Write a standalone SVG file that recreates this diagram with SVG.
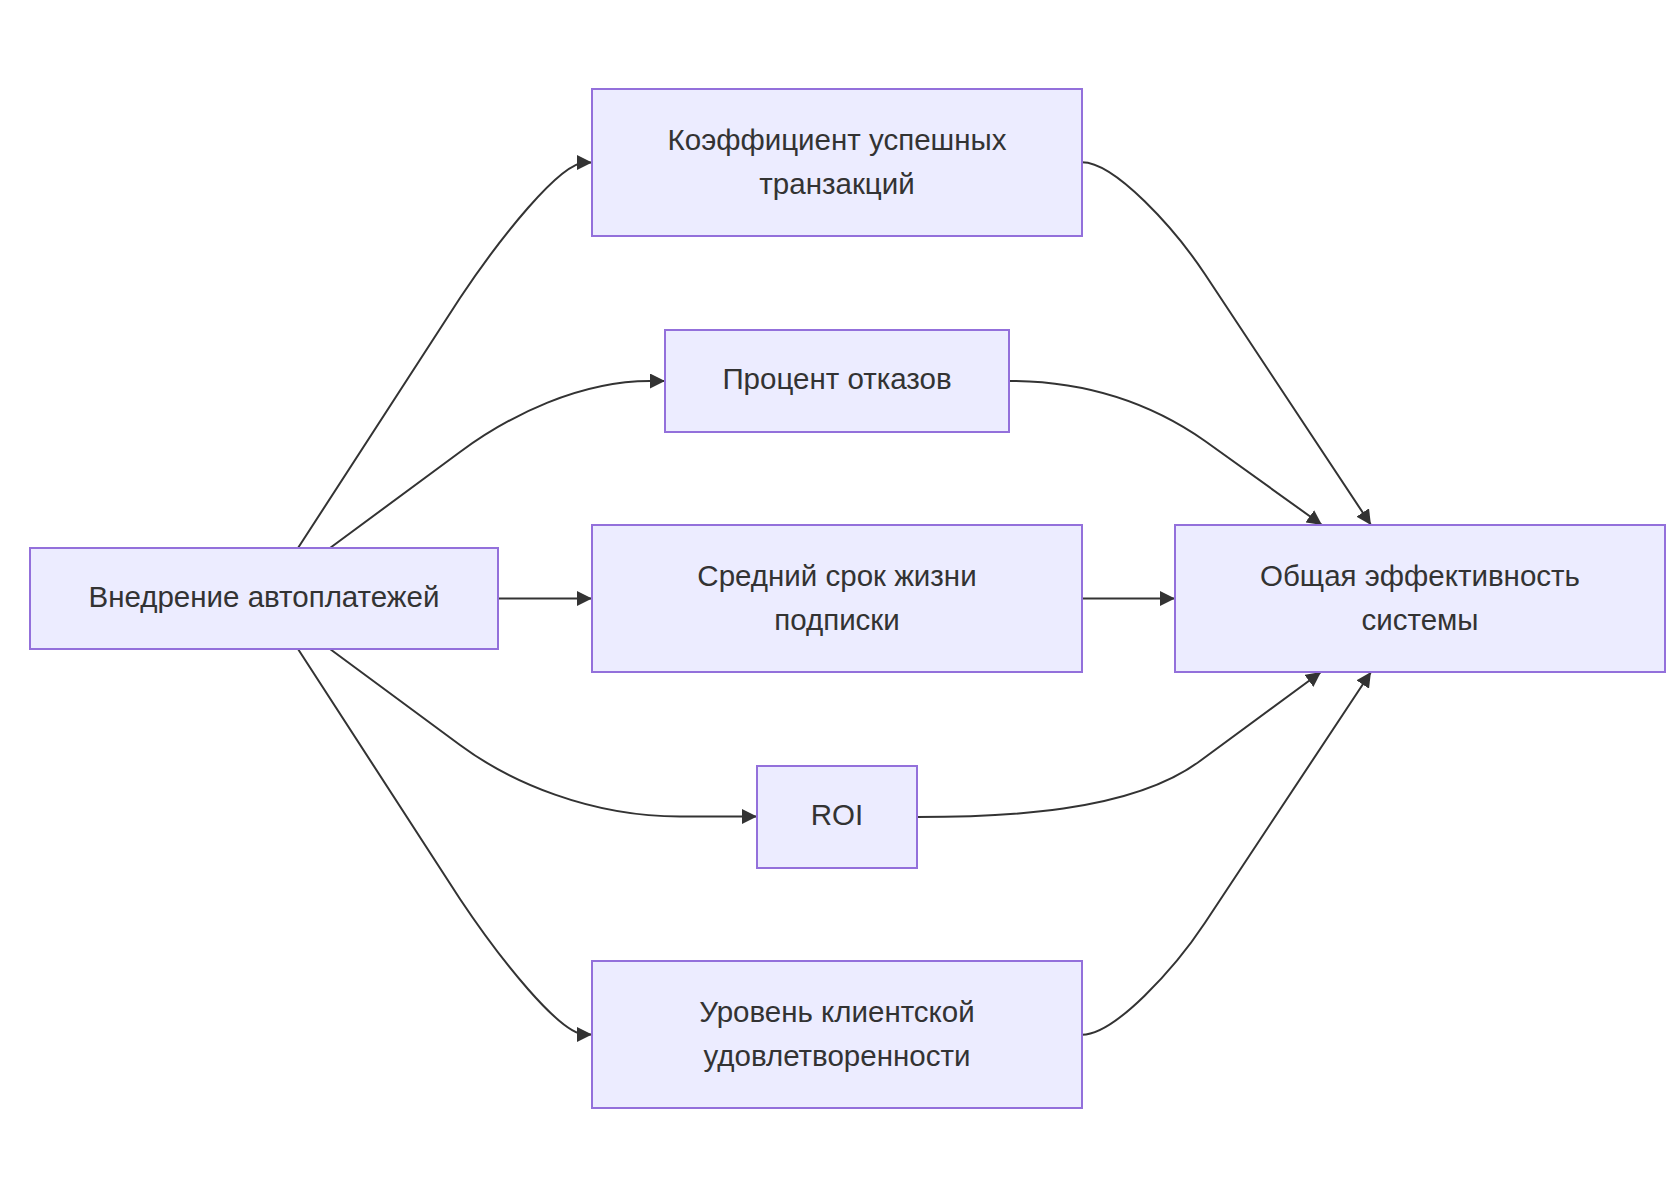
<svg xmlns="http://www.w3.org/2000/svg" width="1680" height="1183" viewBox="0 0 1680 1183">
<style>
.node rect{fill:#ECECFF;stroke:#9370DB;stroke-width:2}
.node text{font-family:"Liberation Sans",Arial,sans-serif;font-size:29.5px;fill:#333333;text-anchor:middle}
.edge{fill:none;stroke:#333333;stroke-width:2;marker-end:url(#arrow)}
</style>
<defs>
<marker id="arrow" viewBox="0 0 10 10" refX="10" refY="5" markerUnits="userSpaceOnUse" markerWidth="15" markerHeight="15" orient="auto" preserveAspectRatio="none">
<path d="M0,0 L10,5 L0,10 z" fill="#333333"/>
</marker>
</defs>
<rect x="0" y="0" width="1680" height="1183" fill="#ffffff"/>
<g id="connectors">
<path class="edge" d="M298,548 L460,298 C500,238 560,162.5 585,162.5 L592,162.5"/>
<path class="edge" d="M330,548 L460,452 C510,415 580,381 650,381 L665,381"/>
<path class="edge" d="M498,598.5 L592,598.5"/>
<path class="edge" d="M330,649 L460,745 C510,782 590,816.5 680,816.5 L757,816.5"/>
<path class="edge" d="M298,649 L460,899 C500,959 560,1034.5 585,1034.5 L592,1034.5"/>
<path class="edge" d="M1082,162.3 C1115,162.3 1175,229 1205,274.3 L1371,525"/>
<path class="edge" d="M1009,381 C1080,381 1145,399 1205,441 L1322,525"/>
<path class="edge" d="M1082,598.5 L1175,598.5"/>
<path class="edge" d="M917,817 C1000,817 1130,813 1200,761 L1321,672"/>
<path class="edge" d="M1082,1034.7 C1115,1034.7 1175,968 1205,922.7 L1371,672"/>
</g>
<g id="node-start" class="node">
<rect x="30" y="548" width="468" height="101"/>
<text x="264" y="606.5">Внедрение автоплатежей</text>
</g>
<g id="node-success" class="node">
<rect x="592" y="89" width="490" height="147"/>
<text x="837" y="150">Коэффициент успешных</text>
<text x="837" y="193.5">транзакций</text>
</g>
<g id="node-refusal" class="node">
<rect x="665" y="330" width="344" height="102"/>
<text x="837" y="389">Процент отказов</text>
</g>
<g id="node-lifetime" class="node">
<rect x="592" y="525" width="490" height="147"/>
<text x="837" y="586">Средний срок жизни</text>
<text x="837" y="629.5">подписки</text>
</g>
<g id="node-roi" class="node">
<rect x="757" y="766" width="160" height="102"/>
<text x="837" y="825">ROI</text>
</g>
<g id="node-satisfaction" class="node">
<rect x="592" y="961" width="490" height="147"/>
<text x="837" y="1022">Уровень клиентской</text>
<text x="837" y="1065.5">удовлетворенности</text>
</g>
<g id="node-overall" class="node">
<rect x="1175" y="525" width="490" height="147"/>
<text x="1420" y="586">Общая эффективность</text>
<text x="1420" y="629.5">системы</text>
</g>
</svg>
